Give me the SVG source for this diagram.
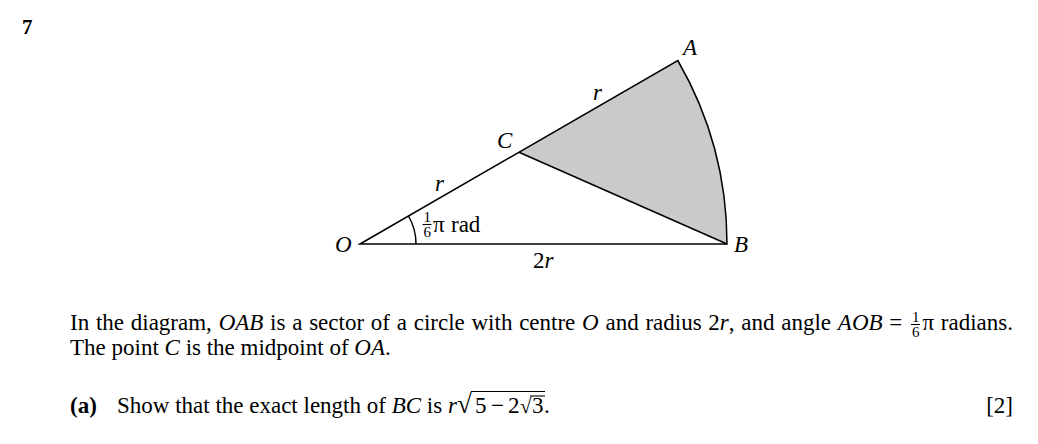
<svg xmlns="http://www.w3.org/2000/svg" width="1038" height="444" viewBox="0 0 1038 444">
<style>
text{font-family:"Liberation Serif","Times New Roman",serif;fill:#000}
.t{font-size:23px}
.l{font-size:23px}
.i{font-style:italic}
.b{font-weight:bold}
.f{font-size:15px}
.s{stroke:#000;stroke-width:1.5;fill:none}
.bar{stroke:#000;stroke-width:1.1}
</style>
<rect width="1038" height="444" fill="#fff"/>
<text class="b" x="22" y="34" style="font-size:21px">7</text>
<g id="sector">
<path d="M519,152.3 L677.8,60.5 A367,367 0 0 1 727,244 Z" fill="#cacaca" stroke="none"/>
<path class="s" d="M360,244 L677.8,60.5 A367,367 0 0 1 727,244 Z"/>
</g>
<g id="connectors">
<line class="s" x1="519" y1="152.3" x2="727" y2="244"/>
<path class="s" stroke-width="1" d="M416,244 A56,56 0 0 0 408.5,216"/>
</g>
<g id="labels">
<text class="l i" x="683" y="55">A</text>
<text class="l i" x="497" y="148">C</text>
<text class="l i" x="335" y="252">O</text>
<text class="l i" x="734" y="252">B</text>
<text class="l i" x="593" y="100">r</text>
<text class="l i" x="435" y="191">r</text>
<text class="l" x="533" y="268">2<tspan class="i">r</tspan></text>
<text class="f" x="423.5" y="222">1</text>
<line class="bar" x1="422.5" y1="224.5" x2="431.5" y2="224.5"/>
<text class="f" x="423.5" y="237">6</text>
<text class="l" x="433" y="232">π</text>
<text class="l" x="451" y="232">rad</text>
</g>
<g id="question">
<text class="t" x="70" y="330" style="word-spacing:1px">In the diagram, <tspan class="i">OAB</tspan> is a sector of a circle with centre <tspan class="i">O</tspan> and radius 2<tspan class="i">r</tspan>, and angle <tspan class="i">AOB</tspan> =</text>
<text class="f" x="912" y="322">1</text>
<line class="bar" x1="911" y1="324.5" x2="920" y2="324.5"/>
<text class="f" x="912" y="337">6</text>
<text class="t" x="1013" y="330" text-anchor="end" style="word-spacing:1px">π radians.</text>
<text class="t" x="70" y="355">The point <tspan class="i">C</tspan> is the midpoint of <tspan class="i">OA</tspan>.</text>
<text class="t b" x="70" y="413">(a)</text>
<text class="t" x="117" y="413">Show that the exact length of <tspan class="i">BC</tspan> is <tspan class="i">r</tspan></text>
<text x="457" y="413" style="font-size:27px">√</text>
<text class="t" x="475" y="413">5</text>
<text class="t" x="491" y="413">−</text>
<text class="t" x="508" y="413">2</text>
<text x="520" y="413" style="font-size:21px">√</text>
<text class="t" x="532" y="413">3</text>
<text class="t" x="544" y="413">.</text>
<line class="bar" x1="471" y1="391.5" x2="545" y2="391.5"/>
<line class="bar" x1="530" y1="396" x2="545" y2="396"/>
<text class="t" x="1013" y="413" text-anchor="end">[2]</text>
</g>
</svg>
